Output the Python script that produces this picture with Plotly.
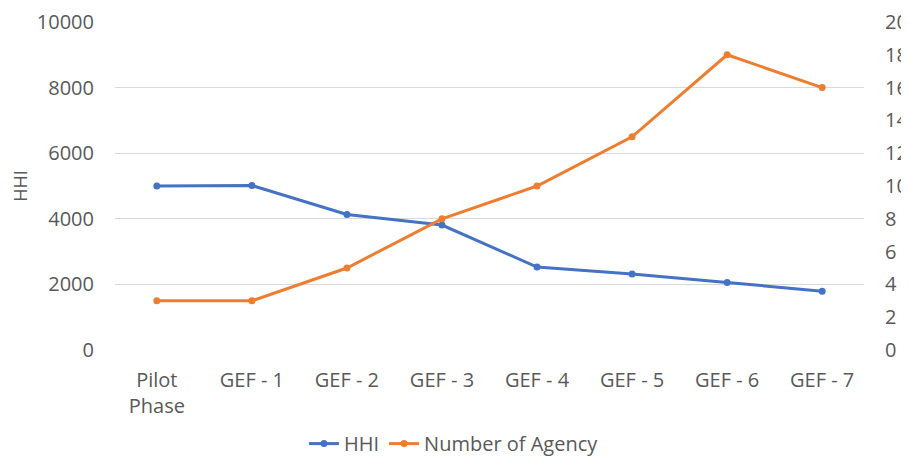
import plotly.graph_objects as go

HHI_COLOR = "#4472C4"
AGENCY_COLOR = "#ED7D31"
TEXT_COLOR = "#595959"

phases = ["Pilot<br>Phase", "GEF - 1", "GEF - 2", "GEF - 3", "GEF - 4", "GEF - 5", "GEF - 6", "GEF - 7"]
hhi = [5000, 5015, 4130, 3810, 2530, 2315, 2060, 1790]
agencies = [3, 3, 5, 8, 10, 13, 18, 16]

fig = go.Figure()
fig.add_trace(
    go.Scatter(
        x=phases,
        y=hhi,
        name="HHI",
        mode="lines+markers",
        line={"color": HHI_COLOR, "width": 3},
        marker={"size": 7},
    )
)
fig.add_trace(
    go.Scatter(
        x=phases,
        y=agencies,
        name="Number of Agency",
        mode="lines+markers",
        line={"color": AGENCY_COLOR, "width": 3},
        marker={"size": 7},
        yaxis="y2",
    )
)

# page body has an 8px margin, so the figure is a bit smaller than the window
fig.update_layout(
    width=901,
    height=450,
    plot_bgcolor="white",
    paper_bgcolor="white",
    font={"family": "Open Sans, Liberation Sans, sans-serif", "size": 20, "color": TEXT_COLOR},
    margin=dict(l=107, r=45, t=14, b=108),
    xaxis={"showgrid": False, "showline": False, "ticks": "", "ticklabelstandoff": 16, "automargin": False},
    yaxis={
        "title": {"text": "HHI", "standoff": 6, "font": {"size": 18}},
        "range": [0, 10000],
        "dtick": 2000,
        "tickformat": "d",
        "gridcolor": "#d9d9d9",
        "zeroline": False,
        "ticklabelstandoff": 20,
        "automargin": False,
    },
    yaxis2={
        "overlaying": "y",
        "side": "right",
        "range": [0, 20],
        "dtick": 2,
        "showgrid": False,
        "zeroline": False,
        "ticklabelstandoff": 20,
        "automargin": False,
    },
    legend={
        "orientation": "h",
        "xref": "container",
        "x": 0.495,
        "xanchor": "center",
        "yref": "container",
        "y": 0.032,
        "yanchor": "middle",
        "itemwidth": 30,
        "font": {"size": 20},
    },
    showlegend=True,
)

fig.write_html("out.html")
